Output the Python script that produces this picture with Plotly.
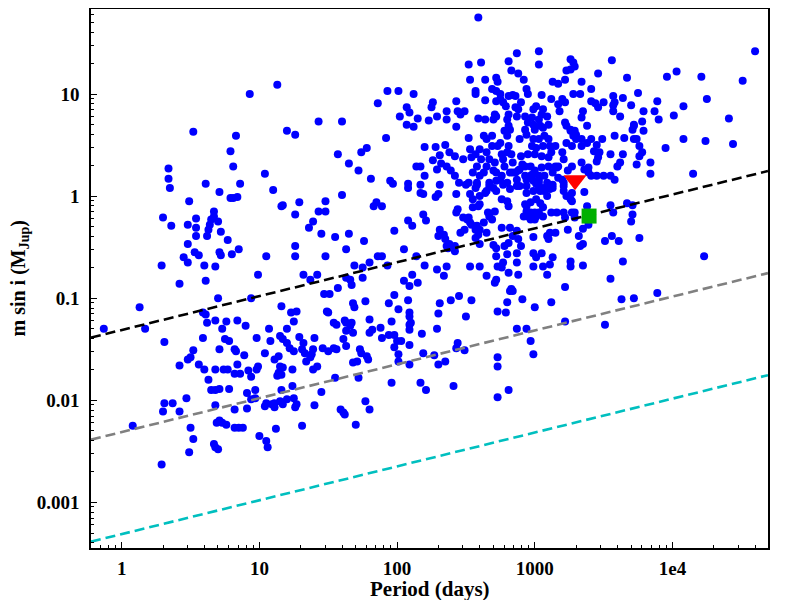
import plotly.graph_objects as go

# RV planets as (log10 period [d], log10 m sin i [Mjup])
short_period_pts = [
    (0.93, 1.00), (1.13, 1.09), (0.52, 0.63), (0.83, 0.59), (1.26, 0.60), (1.20, 0.64), (1.43, 0.73), (1.60, 0.73),
    (0.79, 0.44), (0.81, 0.29), (0.34, 0.27), (0.34, 0.17), (0.35, 0.08), (0.61, 0.12), (0.86, 0.12), (1.04, 0.22),
    (1.10, 0.06), (0.71, 0.04), (0.79, -0.02), (0.81, -0.02), (0.84, -0.01), (0.49, -0.05), (0.30, -0.21), (0.36, -0.29),
    (0.48, -0.28), (0.54, -0.22), (0.54, -0.31), (0.54, -0.39), (0.67, -0.15), (0.67, -0.20), (0.65, -0.23), (0.64, -0.28),
    (0.63, -0.33), (0.62, -0.39), (0.70, -0.25), (0.72, -0.35), (0.48, -0.47), (0.77, -0.43), (0.85, -0.52), (0.80, -0.57),
    (0.53, -0.55), (0.56, -0.58), (0.45, -0.60), (0.48, -0.65), (0.71, -0.55), (0.72, -0.58), (0.29, -0.68), (0.60, -0.68),
    (0.68, -0.69), (0.42, -0.86), (0.61, -0.83), (0.70, -1.00), (0.94, -1.00), (0.99, -0.77), (1.05, -0.59), (1.16, -0.10),
    (1.17, -0.09), (1.26, -0.18), (1.29, -0.06), (1.26, -0.49), (1.26, -0.59), (1.32, -0.77), (1.36, -0.31), (1.39, -0.25),
    (1.43, -0.15), (1.48, -0.05), (1.48, -0.15), (1.45, -0.37), (1.48, -0.59), (1.42, -0.77), (1.37, -0.82), (1.55, -0.40),
    (1.63, -0.52), (1.65, -0.37), (1.60, 0.01), (1.57, 0.41), (1.65, 0.32), (1.72, 0.25), (1.74, 0.43), (1.78, 0.47),
    (1.81, 0.17), (1.76, -0.44), (1.69, -0.68), (1.75, -0.80), (1.80, -0.65), (1.83, -0.10), (1.85, -0.06), (1.89, -0.10),
    (1.86, -0.59), (1.89, -0.59), (1.86, 0.91), (1.92, 0.57), (1.93, 1.03), (2.01, 1.03), (1.95, 0.15), (1.97, 0.12),
    (1.98, -0.34), (1.93, -0.68), (2.02, 0.78), (1.51, -0.96), (1.57, -0.90), (1.47, -0.96), (1.66, -0.82), (1.75, -0.70),
    (1.98, -0.97), (1.67, -0.87), (1.63, -0.80),
]

low_mass_pts = [
    (-0.13, -1.30), (0.13, -1.09), (0.17, -1.30), (0.31, -1.43), (0.59, -1.14), (0.61, -1.16), (0.62, -1.24), (0.68, -1.22),
    (0.73, -1.30), (0.76, -1.23), (0.84, -1.22), (0.90, -1.27), (0.59, -1.39), (0.75, -1.40), (0.78, -1.42), (0.98, -1.39),
    (0.42, -1.66), (0.48, -1.60), (0.50, -1.58), (0.52, -1.51), (0.56, -1.65), (0.60, -1.70), (0.63, -1.80), (0.65, -1.90),
    (0.68, -1.90), (0.71, -1.50), (0.68, -1.70), (0.74, -1.70), (0.77, -1.70), (0.71, -1.89), (0.78, -1.89), (0.82, -1.50),
    (0.83, -1.52), (0.84, -1.65), (0.82, -1.74), (0.86, -1.74), (0.89, -1.56), (0.92, -1.71), (0.98, -1.70), (0.99, -1.67),
    (0.94, -1.77), (0.91, -1.93), (0.97, -1.90), (0.97, -1.98), (0.94, -1.99), (1.04, -1.54), (1.07, -1.30), (1.08, -1.42),
    (1.11, -1.60), (1.13, -1.76), (1.16, -1.08), (1.23, -1.14), (1.27, -1.13), (1.25, -1.23), (1.20, -1.30), (1.15, -1.37),
    (1.17, -1.40), (1.20, -1.44), (1.22, -1.49), (1.25, -1.52), (1.14, -1.57), (1.15, -1.67), (1.14, -1.73), (1.16, -1.75),
    (1.17, -1.68), (1.24, -1.70), (1.24, -1.86), (1.25, -1.98), (1.26, -2.07), (1.27, -2.04), (1.31, -2.25), (1.29, -1.38),
    (1.32, -1.44), (1.31, -1.50), (1.33, -1.54), (1.34, -1.62), (1.37, -1.58), (1.38, -1.55), (1.39, -1.50), (1.40, -1.39),
    (1.39, -1.70), (1.42, -1.67), (1.40, -2.05), (1.45, -1.92), (1.49, -1.13), (1.50, -1.14), (1.46, -1.49), (1.50, -1.52),
    (1.54, -1.24), (1.56, -1.26), (1.54, -1.49), (1.56, -1.50), (1.55, -1.78), (1.59, -2.09), (1.61, -2.12), (1.62, -2.14),
    (1.62, -1.22), (1.63, -1.24), (1.66, -1.27), (1.63, -1.32), (1.67, -1.24), (1.68, -1.34), (1.61, -1.40), (1.63, -1.47),
    (1.68, -1.05), (1.69, -1.09), (1.70, -2.24), (1.68, -1.63), (1.71, -1.62), (1.72, -1.78), (1.73, -1.50), (1.74, -1.54),
    (1.77, -1.03), (1.77, -2.01), (1.80, -2.09), (1.78, -1.57), (1.79, -1.60), (1.80, -1.21), (1.82, -1.31), (1.80, -1.34),
    (1.88, -1.29), (1.89, -1.39), (1.94, -1.05), (1.96, -1.23), (2.01, -1.11), (1.94, -1.36), (1.98, -1.36), (1.96, -1.83),
    (2.00, -1.42), (2.01, -1.55), (1.98, -1.48), (2.01, -1.62),
    (0.08, -2.25), (0.29, -2.63), (0.30, -2.11), (0.31, -2.03), (0.37, -2.03), (0.42, -2.11), (0.47, -1.98), (0.50, -2.27),
    (0.52, -2.38), (0.49, -2.51), (0.67, -2.43), (0.68, -2.46), (0.70, -2.48), (0.68, -2.05), (0.69, -2.22), (0.71, -2.20),
    (0.73, -2.22), (0.76, -2.24), (0.82, -2.27), (0.85, -2.27), (0.88, -2.27), (0.82, -2.09), (0.91, -2.08), (1.00, -2.35),
    (1.05, -2.40), (1.06, -2.46), (1.04, -2.06), (1.05, -2.03), (1.09, -2.04), (1.12, -2.28), (1.11, -2.07), (1.11, -2.03),
    (1.15, -2.01), (1.17, -2.04), (1.20, -1.99), (1.16, -1.90),
    (2.03, -1.42), (2.08, -1.02), (2.09, -1.14), (2.09, -1.18), (2.09, -1.26), (2.09, -1.31), (2.10, -1.24), (2.09, -1.46),
    (2.09, -1.65), (2.18, -1.35), (2.17, -1.83), (2.21, -1.90), (2.19, -1.54), (2.29, -1.30), (2.30, -1.15), (2.31, -1.05),
    (2.27, -1.56), (2.30, -1.65), (2.35, -1.62), (2.39, -1.02), (2.45, -0.98), (2.50, -1.18), (2.54, -1.02), (2.43, -1.49),
    (2.44, -1.44), (2.49, -1.51), (2.41, -1.86), (2.73, -1.13), (2.79, -1.14), (2.80, -1.04), (2.73, -1.58), (2.73, -1.67),
    (2.73, -1.97), (2.81, -1.90), (2.87, -1.30), (2.94, -1.30), (2.91, -1.01), (2.97, -1.42), (2.99, -1.55), (3.00, -1.09),
    (3.12, -1.04), (3.22, -1.23), (3.51, -1.26), (3.63, -1.01), (3.72, -1.00), (3.89, -0.95), (2.82, -0.93), (2.84, -0.93),
]

long_period_pts = [
    (2.59, 1.75), (2.87, 1.40), (3.03, 1.42), (3.03, 1.29), (2.81, 1.32), (2.52, 1.29), (2.61, 1.31), (2.53, 1.14),
    (2.64, 1.14), (2.72, 1.16), (2.73, 1.12), (2.83, 1.23), (2.88, 1.20), (2.92, 1.14), (3.26, 1.34), (3.28, 1.31),
    (3.29, 1.27), (3.23, 1.23), (3.26, 1.24), (3.22, 1.14), (3.13, 1.12), (3.17, 1.10), (3.34, 1.12), (3.46, 1.20),
    (3.56, 1.33), (3.67, 1.16), (3.96, 1.17), (4.03, 1.22), (4.21, 1.17), (4.60, 1.42), (4.51, 1.13), (4.25, 0.95),
    (4.41, 0.76), (4.08, 0.88), (4.01, 0.79), (4.08, 0.56), (4.24, 0.54), (4.44, 0.51), (3.95, 0.47), (4.15, 0.22),
    (4.23, -0.59), (3.89, 0.93), (3.87, 0.83), (3.90, 0.75), (3.79, 0.83), (3.78, 0.73), (3.79, 0.64), (3.75, 1.01),
    (3.70, 0.89), (3.62, 0.78), (3.72, 0.70), (3.57, 0.98), (3.57, 0.83), (3.64, 0.96), (3.57, 0.89), (3.41, 1.05),
    (3.41, 0.93), (3.46, 0.87), (3.50, 0.92), (3.35, 0.83), (3.34, 0.77), (3.38, 0.69), (3.74, 0.56), (3.76, 0.49),
    (3.78, 0.43), (3.76, 0.39), (3.84, 0.33), (3.84, 0.22), (3.74, 0.31), (3.65, 0.57), (3.58, 0.59), (3.49, 0.56),
    (3.55, 0.41), (3.64, 0.41), (3.62, 0.33), (3.60, 0.29), (3.47, 0.43), (3.46, 0.38), (3.45, 0.34), (3.41, 0.56),
    (3.38, 0.52), (3.34, 0.49), (3.30, 0.56), (3.28, 0.59), (3.26, 0.64), (3.29, 0.64), (3.34, 0.33), (3.36, 0.26),
    (3.39, 0.23), (3.41, 0.20), (3.45, 0.20), (3.50, 0.20), (3.55, 0.20), (3.58, 0.16), (3.36, 0.04), (3.38, -0.10),
    (3.55, -0.09), (3.67, -0.07), (3.71, -0.09), (3.71, -0.18), (3.70, -0.25), (3.57, -0.16), (3.56, -0.39), (3.61, -0.44),
    (3.51, -0.44), (3.76, -0.41), (3.64, -0.64), (3.55, -0.81), (3.35, -0.68), (3.35, -0.47), (3.33, -0.49), (3.32, -0.39),
    (3.35, -0.32), (3.24, -0.33), (3.29, -0.16), (3.26, -0.03), (3.27, -0.05), (3.23, 0.00), (3.21, 0.05), (3.20, 0.16),
    (3.16, 0.28), (3.20, 0.43), (3.22, 0.72), (3.23, 0.69), (3.26, 0.65), (3.13, 0.23), (3.07, 0.20), (3.03, 0.16),
    (3.09, 0.00), (3.11, 0.07), (3.06, 0.08), (3.04, 0.05), (3.16, -0.16), (3.21, -0.16), (3.27, -0.16), (3.11, -0.36),
    (3.15, -0.36), (3.09, -0.39), (3.10, -0.42), (2.99, -0.40), (2.99, -0.56), (3.05, -0.56), (3.01, -0.60), (2.99, -0.69),
    (3.06, -0.69), (3.11, -0.67), (3.13, -0.60), (3.09, -0.77), (3.22, -0.89), (3.26, -0.64), (3.26, -0.69),
    (3.30, 0.60), (3.34, 0.56), (3.45, 0.50), (3.27, 0.49), (3.23, 0.52), (3.43, 0.44), (3.72, 0.56), (3.17, 0.29),
    (3.21, 0.36), (3.24, 0.25), (3.27, 0.29), (3.21, 0.13), (3.17, 0.18), (3.13, 0.11), (3.09, 0.13), (3.03, 0.13),
    (3.39, 0.28), (3.10, 0.10), (3.13, 0.08), (3.21, 0.10), (3.27, 0.03), (3.04, -0.07), (3.06, -0.11), (3.03, -0.16),
    (3.12, -0.16), (3.22, -0.21), (3.29, -0.21), (3.39, -0.28),
    (3.05, 0.99), (3.12, 0.95), (3.20, 0.95), (3.22, 0.92), (3.17, 0.90), (3.18, 0.83), (3.28, 1.00), (3.33, 1.00),
    (3.44, 0.91), (3.58, 0.92), (3.72, 0.69), (3.71, 0.65),
]

central_pts = [
    (2.92, -0.20), (2.97, -0.16), (3.01, -0.20), (3.06, -0.20), (2.94, -0.10), (2.97, -0.06), (3.01, -0.03), (2.97, -0.23),
    (3.00, -0.16), (2.88, -0.42), (2.90, -0.49), (2.87, -0.56), (2.94, 0.03), (2.99, 0.05), (3.03, 0.07), (3.05, 0.07),
    (3.07, 0.05), (2.94, 0.16), (2.97, 0.20), (2.99, 0.15), (3.01, 0.12), (2.87, 0.10), (2.82, 0.07), (2.80, 0.13),
    (2.84, 0.23), (2.89, 0.26), (2.93, 0.29), (2.76, 0.20), (2.72, 0.15), (2.67, 0.10), (2.64, 0.03), (2.60, 0.00),
    (2.55, -0.03), (2.76, -0.03), (2.80, -0.05), (2.81, -0.10), (2.67, -0.20), (2.69, -0.23), (2.66, -0.16), (2.63, -0.26),
    (2.60, -0.33), (2.65, -0.36), (2.55, -0.11), (2.52, -0.21), (2.53, -0.26), (2.51, -0.23), (2.57, -0.33), (2.59, -0.38),
    (2.46, -0.36), (2.49, -0.33), (2.42, -0.49), (2.35, -0.42), (2.36, -0.49), (2.37, -0.51), (2.34, -0.38), (2.31, -0.33),
    (2.30, -0.39), (2.19, -0.18), (2.21, -0.24), (2.08, -0.24), (2.11, -0.29), (2.05, -0.52), (2.14, -0.59), (2.20, -0.68),
    (2.29, -0.72), (2.34, -0.78), (2.36, -0.69), (2.42, -0.54), (2.53, -0.69), (2.60, -0.69), (2.57, -0.41), (2.60, -0.47),
    (2.65, -0.78), (2.72, -0.82), (2.71, -0.85), (2.73, -0.69), (2.77, -0.65), (2.81, -0.75), (2.88, -0.77), (2.80, -0.57),
    (2.78, -0.49), (2.72, -0.51), (2.70, -0.48), (2.76, -0.31), (2.82, -0.31), (2.84, -0.39), (2.09, -0.88), (2.05, -0.83),
    (2.15, -0.85),
    (2.08, 0.08), (2.17, 0.03), (2.19, 0.02), (2.30, 0.02), (2.28, -0.01), (2.43, 0.02), (2.53, 0.02), (2.57, 0.08),
    (2.65, 0.05), (2.70, 0.08), (2.72, 0.05), (2.77, 0.11), (2.50, 0.11), (2.58, 0.11), (2.44, -0.13), (2.43, -0.16),
    (2.59, -0.10), (2.60, -0.08), (2.71, -0.15), (2.48, -0.21), (2.54, -0.28), (2.58, -0.29), (2.38, -0.47), (2.87, -0.34),
    (2.81, -0.46), (2.72, -0.59), (2.76, -0.70), (2.87, -0.65), (2.83, -0.91), (2.11, -0.77),
    (2.93, -0.08), (2.95, -0.20), (3.00, -0.23), (2.94, -0.15),
]

giant_pts = [
    (2.12, 1.00), (2.57, 1.03), (2.57, 1.00), (2.69, 1.05), (2.64, 0.94), (2.72, 1.03), (2.75, 1.00), (2.72, 0.93),
    (2.77, 0.92), (2.81, 0.98), (2.84, 0.99), (2.86, 0.98), (2.07, 0.87), (2.09, 0.82), (2.07, 0.70), (2.12, 0.68),
    (2.15, 0.76), (2.23, 0.74), (2.26, 0.92), (2.25, 0.87), (2.29, 0.78), (2.36, 0.83), (2.36, 0.75), (2.43, 0.93),
    (2.44, 0.83), (2.46, 0.80), (2.49, 0.83), (2.43, 0.68), (2.59, 0.76), (2.64, 0.75), (2.71, 0.80), (2.72, 0.78),
    (2.70, 0.75), (2.75, 0.95), (2.79, 0.88), (2.81, 0.80), (2.80, 0.75), (2.86, 0.87), (2.87, 0.78), (2.81, 0.69),
    (2.82, 0.65), (2.78, 0.64), (2.80, 0.59), (2.52, 0.57), (2.63, 0.59), (2.69, 0.59), (2.20, 0.48), (2.28, 0.48),
    (2.35, 0.50), (2.31, 0.40), (2.38, 0.43), (2.42, 0.39), (2.26, 0.35), (2.32, 0.32), (2.36, 0.29), (2.39, 0.25),
    (2.42, 0.20), (2.14, 0.29), (2.17, 0.29), (2.29, 0.26), (2.20, 0.20), (2.08, 0.12), (2.17, 0.11), (2.31, 0.11),
    (2.45, 0.13), (2.48, 0.36), (2.53, 0.46), (2.54, 0.38), (2.57, 0.41), (2.60, 0.46), (2.65, 0.56), (2.69, 0.49),
    (2.73, 0.49), (2.75, 0.52), (2.76, 0.41), (2.80, 0.43), (2.83, 0.41), (2.84, 0.33), (2.78, 0.29), (2.82, 0.23),
    (2.86, 0.23), (2.87, 0.16), (2.55, 0.23), (2.60, 0.20), (2.63, 0.23), (2.65, 0.29), (2.67, 0.36), (2.71, 0.33),
    (2.72, 0.23), (2.75, 0.16), (2.67, 0.13), (2.58, 0.13), (2.52, 0.13), (2.58, 0.29), (2.61, 0.36), (2.65, 0.43),
    (2.70, 0.25), (2.77, 0.36), (2.81, 0.49),
    (2.94, 1.05), (2.95, 1.00), (2.90, 0.92), (2.88, 0.85), (2.99, 0.85), (3.01, 0.88), (3.06, 0.85), (3.09, 0.78),
    (3.05, 0.80), (3.03, 0.75), (2.98, 0.77), (2.93, 0.78), (2.95, 0.72), (2.99, 0.70), (3.04, 0.69), (3.06, 0.67),
    (3.10, 0.70), (3.00, 0.65), (2.93, 0.65), (2.94, 0.60), (2.89, 0.56), (2.99, 0.56), (3.03, 0.56), (3.07, 0.59),
    (3.10, 0.56), (3.11, 0.49), (3.06, 0.49), (3.01, 0.47), (2.98, 0.49), (3.12, 0.43), (3.15, 0.49), (3.10, 0.38),
    (3.05, 0.39), (3.00, 0.41), (2.95, 0.41), (2.90, 0.39), (2.91, 0.31), (2.97, 0.29), (3.00, 0.25), (3.05, 0.28),
    (3.10, 0.29), (3.15, 0.29), (3.03, 0.20), (2.98, 0.21), (2.93, 0.20), (2.88, 0.25), (2.94, 0.10), (2.89, 0.10),
]

# highlighted planets (period [d], m sin i [Mjup])
red_period, red_mass = [1960], [1.43]
green_period, green_mass = [2480], [0.637]

# detection-limit lines, m ~ P^(1/3), read at the plot edges
limit_period = [0.598, 49400]
limit_black = [0.0411, 1.76]
limit_gray = [0.00411, 0.176]
limit_cyan = [0.000411, 0.0176]

x_tickvals = [1, 10, 100, 1000, 10000]
x_ticktext = ["1", "10", "100", "1000", "1e4"]
y_tickvals = [0.001, 0.01, 0.1, 1, 10]
y_ticktext = ["0.001", "0.01", "0.1", "1", "10"]

all_pts = short_period_pts + low_mass_pts + long_period_pts + central_pts + giant_pts
period = [10 ** p for p, m in all_pts]
msini = [10 ** m for p, m in all_pts]

fig = go.Figure()
fig.add_trace(go.Scatter(x=period, y=msini, mode="markers",
                         marker=dict(color="#0000ff", size=8, line=dict(width=0))))
for ys, col in [(limit_black, "black"), (limit_gray, "#808080"), (limit_cyan, "#00bfbf")]:
    fig.add_trace(go.Scatter(x=limit_period, y=ys, mode="lines",
                             line=dict(color=col, width=2.6, dash="10px,5px")))
fig.add_trace(go.Scatter(x=red_period, y=red_mass, mode="markers",
                         marker=dict(symbol="triangle-down", color="#ff0000", size=20, line=dict(width=0))))
fig.add_trace(go.Scatter(x=green_period, y=green_mass, mode="markers",
                         marker=dict(symbol="square", color="#00b000", size=15, line=dict(width=0))))

serif = "Liberation Serif"
axis_common = dict(showgrid=False, zeroline=False, showline=True, linecolor="black", linewidth=1.5,
                   mirror=True, ticks="inside", ticklen=6, tickwidth=1.3, tickcolor="black",
                   automargin=False,
                   tickfont=dict(family=serif, size=19, color="black", weight="bold"),
                   minor=dict(ticks="inside", ticklen=3.5, tickwidth=1, tickcolor="black", dtick="D1"))

# page body has an 8px margin, so the figure is sized to fit the 789x600 window
fig.update_layout(
    width=781, height=592,
    margin=dict(l=83, r=21, t=1, b=52),
    plot_bgcolor="white", paper_bgcolor="white",
    showlegend=False, font=dict(family=serif, color="black"),
    xaxis=dict(type="log", range=[-0.223, 4.694], tickvals=x_tickvals, ticktext=x_ticktext,
               ticklabelstandoff=2, **axis_common),
    yaxis=dict(type="log", range=[-3.448, 1.833], tickvals=y_tickvals, ticktext=y_ticktext,
               ticklabelstandoff=6, **axis_common),
)

# axis titles
fig.add_annotation(text="<b>Period (days)</b>", xref="paper", yref="paper", x=0.5, y=0,
                   yanchor="middle", yshift=-41, showarrow=False, font=dict(family=serif, size=21))
fig.add_annotation(text="<b>m sin i (M<sub>Jup</sub>)</b>", xref="paper", yref="paper", x=0, y=0.5,
                   xanchor="center", xshift=-72, textangle=-90, showarrow=False, font=dict(family=serif, size=20))

fig.write_html("out.html")
